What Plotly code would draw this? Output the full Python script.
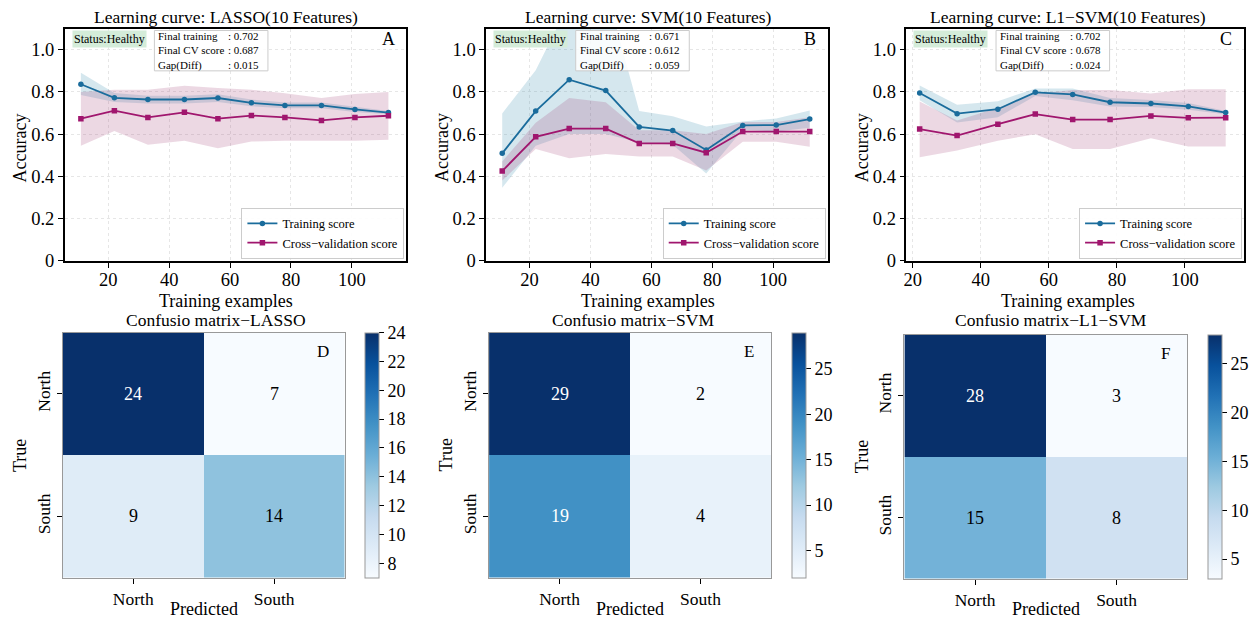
import plotly.graph_objects as go
import plotly.colors as pc

FONT = "Liberation Serif"
W, H = 1260, 631

# ---------------- data ----------------
# Learning curve A: LASSO
A_sizes = [11, 22, 33, 45, 56, 67, 78, 90, 101, 112]
A_train = [0.836, 0.772, 0.764, 0.764, 0.771, 0.748, 0.736, 0.736, 0.717, 0.702]
A_train_hi = [0.891, 0.795, 0.782, 0.782, 0.789, 0.764, 0.750, 0.750, 0.729, 0.710]
A_train_lo = [0.785, 0.752, 0.745, 0.745, 0.752, 0.732, 0.722, 0.722, 0.705, 0.694]
A_cv = [0.673, 0.711, 0.679, 0.703, 0.673, 0.688, 0.679, 0.665, 0.679, 0.687]
A_cv_hi = [0.800, 0.810, 0.810, 0.829, 0.818, 0.810, 0.794, 0.771, 0.790, 0.800]
A_cv_lo = [0.545, 0.615, 0.550, 0.569, 0.533, 0.565, 0.569, 0.569, 0.569, 0.573]

# Learning curve B: SVM
B_sizes = [11, 22, 33, 45, 56, 67, 78, 90, 101, 112]
B_train = [0.509, 0.709, 0.858, 0.806, 0.634, 0.617, 0.525, 0.641, 0.643, 0.671]
B_train_hi = [0.698, 0.903, 1.220, 1.290, 0.709, 0.685, 0.636, 0.660, 0.674, 0.712]
B_train_lo = [0.346, 0.545, 0.600, 0.600, 0.560, 0.550, 0.413, 0.622, 0.612, 0.630]
B_cv = [0.425, 0.587, 0.626, 0.626, 0.556, 0.556, 0.512, 0.612, 0.612, 0.612]
B_cv_hi = [0.470, 0.654, 0.771, 0.751, 0.618, 0.618, 0.600, 0.657, 0.657, 0.680]
B_cv_lo = [0.380, 0.530, 0.486, 0.506, 0.494, 0.494, 0.428, 0.564, 0.564, 0.540]

# Learning curve C: L1-SVM
C_sizes = [22, 33, 45, 56, 67, 78, 90, 101, 112]
C_train = [0.795, 0.697, 0.718, 0.798, 0.788, 0.751, 0.745, 0.731, 0.702]
C_train_hi = [0.830, 0.739, 0.756, 0.816, 0.816, 0.771, 0.762, 0.747, 0.710]
C_train_lo = [0.760, 0.655, 0.680, 0.780, 0.760, 0.731, 0.728, 0.715, 0.694]
C_cv = [0.624, 0.593, 0.647, 0.695, 0.669, 0.669, 0.686, 0.677, 0.678]
C_cv_hi = [0.754, 0.664, 0.725, 0.791, 0.809, 0.809, 0.792, 0.813, 0.813]
C_cv_lo = [0.491, 0.522, 0.569, 0.599, 0.529, 0.529, 0.580, 0.541, 0.541]

# Confusion matrices (rows: True, cols: Predicted)
classes = ["North", "South"]
cm_lasso = [[24, 7], [9, 14]]
cm_svm = [[29, 2], [19, 4]]
cm_l1svm = [[28, 3], [15, 8]]

lc_titles = ["Learning curve: LASSO(10 Features)",
             "Learning curve: SVM(10 Features)",
             "Learning curve: L1\u2212SVM(10 Features)"]
cm_titles = ["Confusio matrix\u2212LASSO", "Confusio matrix\u2212SVM",
             "Confusio matrix\u2212L1\u2212SVM"]
lc_letters = ["A", "B", "C"]
cm_letters = ["D", "E", "F"]
status_text = "Status:Healthy"
stat_labels = ["Final training", "Final CV score", "Gap(Diff)"]
xticks_lc = [20, 40, 60, 80, 100]
yticks_lc = [0, 0.2, 0.4, 0.6, 0.8, 1.0]
yticktext_lc = ["0", "0.2", "0.4", "0.6", "0.8", "1.0"]

# ---------------- styles ----------------
TRAIN_C = "#1a6c9c"
CV_C = "#a0166e"
TRAIN_FILL = "rgba(46,134,171,0.20)"
CV_FILL = "rgba(162,59,114,0.20)"


def fx(p):
    return p / W


def fy(p):
    return 1 - p / H


fig = go.Figure()

lc_boxes = [  # left, right, top, bottom (px)
    (62, 405, 29, 265),
    (485, 828, 29, 265),
    (907, 1246, 29, 265),
]
lc_xrange = [[5.7, 117.9], [5.7, 117.9], [18.1, 117.4]]
lc_title_cx = [224, 648, 1069]

lc_data = [
    (A_sizes, A_train, A_train_hi, A_train_lo, A_cv, A_cv_hi, A_cv_lo),
    (B_sizes, B_train, B_train_hi, B_train_lo, B_cv, B_cv_hi, B_cv_lo),
    (C_sizes, C_train, C_train_hi, C_train_lo, C_cv, C_cv_hi, C_cv_lo),
]

annotations = []
shapes = []
layout_axes = {}
legends = {}


def txt(text, x, y, size, xanchor="center", yanchor="middle", **kw):
    d = dict(text=text, x=x, y=y, xref="paper", yref="paper", xanchor=xanchor,
             yanchor=yanchor, showarrow=False,
             font=dict(family=FONT, size=size, color="black"))
    d.update(kw)
    return d


for i, (sz, tr, trh, trl, cv, cvh, cvl) in enumerate(lc_data):
    n = i + 1
    xa = "x" if n == 1 else f"x{n}"
    ya = "y" if n == 1 else f"y{n}"
    lg = "legend" if n == 1 else f"legend{n}"
    fig.add_trace(go.Scatter(x=list(sz) + list(sz)[::-1], y=list(trh) + list(trl)[::-1],
                             fill="toself", fillcolor=TRAIN_FILL, line=dict(width=0),
                             mode="lines", showlegend=False, hoverinfo="skip",
                             xaxis=xa, yaxis=ya))
    fig.add_trace(go.Scatter(x=list(sz) + list(sz)[::-1], y=list(cvh) + list(cvl)[::-1],
                             fill="toself", fillcolor=CV_FILL, line=dict(width=0),
                             mode="lines", showlegend=False, hoverinfo="skip",
                             xaxis=xa, yaxis=ya))
    fig.add_trace(go.Scatter(x=sz, y=tr, mode="lines+markers", name="Training score",
                             line=dict(color=TRAIN_C, width=1.8),
                             marker=dict(symbol="circle", size=5.5, color=TRAIN_C),
                             xaxis=xa, yaxis=ya, legend=lg))
    fig.add_trace(go.Scatter(x=sz, y=cv, mode="lines+markers", name="Cross\u2212validation score",
                             line=dict(color=CV_C, width=1.8),
                             marker=dict(symbol="square", size=5.5, color=CV_C),
                             xaxis=xa, yaxis=ya, legend=lg))

    l, r, t, b = lc_boxes[i]
    axkey = "xaxis" if n == 1 else f"xaxis{n}"
    aykey = "yaxis" if n == 1 else f"yaxis{n}"
    common = dict(showline=True, linecolor="black", linewidth=1.5, mirror=True,
                  ticks="outside", ticklen=5, tickwidth=1.2, tickcolor="black",
                  showgrid=True, gridcolor="#e6e6e6", griddash="dot", gridwidth=1,
                  zeroline=False, tickfont=dict(family=FONT, size=18.5, color="black"))
    layout_axes[axkey] = dict(domain=[fx(l), fx(r)], range=lc_xrange[i], anchor=ya,
                              tickvals=xticks_lc, ticklabelstandoff=-4, **common)
    layout_axes[aykey] = dict(domain=[fy(b), fy(t)], range=[0, 1.1], anchor=xa,
                              tickvals=yticks_lc, ticktext=yticktext_lc, **common)

    legends[lg] = dict(x=fx(r - 2), xanchor="right", y=fy(b - 2), yanchor="bottom",
                       xref="paper", yref="paper",
                       bgcolor="rgba(255,255,255,0.9)", bordercolor="#cccccc", borderwidth=1,
                       font=dict(family=FONT, size=12.5, color="black"),
                       itemwidth=30, tracegroupgap=0)

    annotations.append(txt(lc_titles[i], fx(lc_title_cx[i]), fy(17), 17.5))
    annotations.append(txt("Training examples", fx(lc_title_cx[i]), fy(306), 18,
                           borderpad=0))
    annotations.append(txt("Accuracy", fx(l - 45), fy(150), 18, textangle=-90))
    annotations.append(txt(lc_letters[i], fx(r - 18), fy(40), 18))
    annotations.append(txt(status_text, fx(l + 7), fy(40), 12, xanchor="left",
                           bgcolor="#d4ecd9", borderpad=1))
    # stats box: label column and value column
    ft, fc = tr[-1], cv[-1]
    vals = [ft, fc, ft - fc]
    shapes.append(dict(type="rect", xref="paper", yref="paper",
                       x0=fx(l + 90), x1=fx(l + 204), y0=fy(72), y1=fy(31),
                       fillcolor="rgba(255,255,255,0.85)", line=dict(color="#cccccc", width=1),
                       layer="above"))
    annotations.append(txt("<br>".join(stat_labels), fx(l + 93), fy(51.5), 11,
                           xanchor="left", align="left", borderpad=0))
    annotations.append(txt("<br>".join(f": {v:.3f}" for v in vals), fx(l + 163), fy(51.5),
                           11, xanchor="left", align="left", borderpad=0))

# ---------------- confusion matrices ----------------
cm_boxes = [  # left, right, top, bottom
    (60, 343, 338, 587),
    (488, 771, 338, 587),
    (905, 1189, 340, 588),
]
cb_left = [363, 792, 1210]
cm_title_cx = [214, 633, 1052]
cb_ticks = [[8, 10, 12, 14, 16, 18, 20, 22, 24], [5, 10, 15, 20, 25], [5, 10, 15, 20, 25]]
blues = pc.sequential.Blues

for j, cm in enumerate([cm_lasso, cm_svm, cm_l1svm]):
    n = j + 4
    xa, ya = f"x{n}", f"y{n}"
    l, r, t, b = cm_boxes[j]
    zmin = min(min(row) for row in cm)
    zmax = max(max(row) for row in cm)
    fig.add_trace(go.Heatmap(
        z=cm, x=classes, y=classes, colorscale=blues, zmin=zmin, zmax=zmax,
        xaxis=xa, yaxis=ya, hoverinfo="skip",
        colorbar=dict(x=fx(cb_left[j] - 10), xanchor="left", xref="paper",
                      y=fy((t + b) / 2), yanchor="middle", yref="paper",
                      len=(b - t) / H, lenmode="fraction", ypad=0,
                      thickness=14, thicknessmode="pixels",
                      outlinecolor="#999999", outlinewidth=1,
                      ticks="outside", ticklen=5, tickcolor="black",
                      tickvals=cb_ticks[j],
                      tickfont=dict(family=FONT, size=18, color="black"))))
    thr = (zmin + zmax) / 2
    for ri, row in enumerate(cm):
        for ci, v in enumerate(row):
            annotations.append(dict(text=str(v), x=classes[ci], y=classes[ri], xref=xa,
                                    yref=ya, showarrow=False,
                                    font=dict(family=FONT, size=18,
                                              color="white" if v > thr else "black")))
    hm_common = dict(type="category", showline=True, linecolor="#999999", linewidth=1,
                     mirror=True, ticks="outside", ticklen=5, tickwidth=1.2,
                     tickcolor="black", showgrid=False, zeroline=False,
                     tickfont=dict(family=FONT, size=17.5, color="black"))
    layout_axes[f"xaxis{n}"] = dict(domain=[fx(l), fx(r)], anchor=ya, **hm_common)
    layout_axes[f"yaxis{n}"] = dict(domain=[fy(b), fy(t)], anchor=xa, autorange="reversed",
                                    tickangle=-90, **hm_common)
    annotations.append(txt(cm_titles[j], fx(cm_title_cx[j]), fy(325), 17.5))
    annotations.append(txt("Predicted", fx((l + r) / 2), fy(619), 18))
    annotations.append(txt("True", fx(l - 43), fy((t + b) / 2), 18, textangle=-90))
    annotations.append(txt(cm_letters[j], fx(r - 22), fy(t + 19), 17))

fig.update_layout(
    width=W, height=H, margin=dict(l=0, r=0, t=0, b=0),
    paper_bgcolor="white", plot_bgcolor="white",
    font=dict(family=FONT, color="black"),
    annotations=annotations, shapes=shapes,
    **layout_axes, **legends,
)

# let the 1260x631 figure fill the window exactly (no default page margin)
fig.write_html("out.html",
               config={"displayModeBar": False},
               post_script="document.body.style.margin='0';"
                           "document.body.style.overflow='hidden';")
